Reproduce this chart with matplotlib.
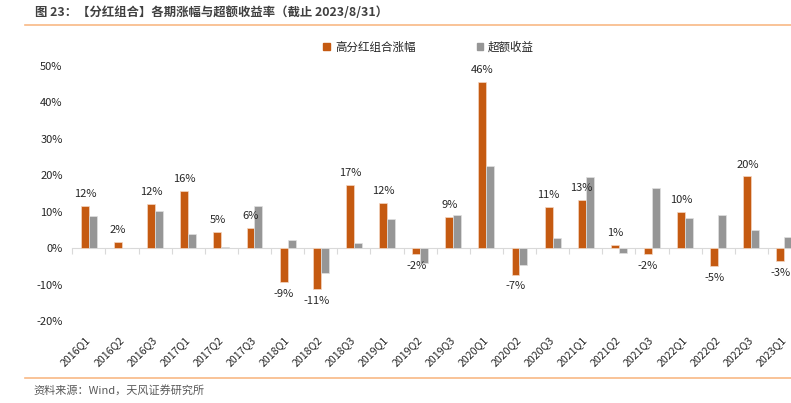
import matplotlib
matplotlib.use("Agg")
import matplotlib.pyplot as plt
import numpy as np
from matplotlib.patches import Patch

plt.rcParams['font.family'] = ['Noto Sans CJK SC', 'DejaVu Sans']

categories = ["2016Q1", "2016Q2", "2016Q3", "2017Q1", "2017Q2", "2017Q3",
              "2018Q1", "2018Q2", "2018Q3", "2019Q1", "2019Q2", "2019Q3",
              "2020Q1", "2020Q2", "2020Q3", "2021Q1", "2021Q2", "2021Q3",
              "2022Q1", "2022Q2", "2022Q3", "2023Q1"]
gain = [11.7, 1.7, 12.2, 15.7, 4.6, 5.7,
        -9.3, -11.2, 17.4, 12.3, -1.6, 8.7,
        45.6, -7.2, 11.3, 13.3, 0.8, -1.6,
        10.0, -4.8, 19.7, -3.4]
excess = [8.9, 0.1, 10.3, 4.0, 0.3, 11.5,
          2.3, -6.7, 1.5, 8.0, -4.1, 9.2,
          22.5, -4.7, 2.7, 19.6, -1.3, 16.6,
          8.4, 9.1, 5.0, 3.1]
series_names = ["高分红组合涨幅", "超额收益"]
yticks = [-20, -10, 0, 10, 20, 30, 40, 50]

title = "图 23：【分红组合】各期涨幅与超额收益率（截止 2023/8/31）"
source = "资料来源：Wind，天风证券研究所"

ORANGE = "#C55A11"
GRAY = "#969696"

W, H = 791, 403
fig = plt.figure(figsize=(W / 100, H / 100), dpi=100)

left_px, right_px = 72.3, 801.0
top_px, bot_px = 66.0, 321.2
ax = fig.add_axes([left_px / W, (H - bot_px) / H,
                   (right_px - left_px) / W, (bot_px - top_px) / H])

x = np.arange(len(categories))
bw = 0.24
b1 = ax.bar(x - bw / 2, gain, width=bw, color=ORANGE, edgecolor="#f4d7c3",
            linewidth=0.5, label=series_names[0], zorder=3)
b2 = ax.bar(x + bw / 2, excess, width=bw, color=GRAY, edgecolor="#e0e0e0",
            linewidth=0.5, label=series_names[1], zorder=3)

ax.bar_label(b1, labels=[f"{round(v)}%" for v in gain], padding=5,
             fontsize=8, color="#262626")

ax.set_xlim(-0.5, len(categories) - 0.5)
ax.set_ylim(-20, 50)
ax.set_yticks(yticks)
ax.set_yticklabels([f"{v}%" for v in yticks])
ax.tick_params(axis='y', length=0, pad=7, labelsize=8, labelcolor="#262626")

for s in ax.spines.values():
    s.set_visible(False)

ax.set_xticks(x)
ax.set_xticklabels(categories, rotation=45, ha='right', va='center',
                   rotation_mode='anchor')
ax.tick_params(axis='x', length=0, pad=12, labelsize=7.6, labelcolor="#262626")

# zero axis line with category boundary ticks
sec = ax.secondary_xaxis(20 / 70)
sec.set_xticks(np.arange(len(categories) + 1) - 0.5)
sec.set_xticklabels([])
sec.tick_params(axis='x', length=4, color="#d9d9d9", width=0.8)
sec.spines['bottom'].set_color("#d9d9d9")
sec.spines['bottom'].set_linewidth(0.8)
for k in ('top', 'left', 'right'):
    sec.spines[k].set_visible(False)

handles = [Patch(facecolor=ORANGE, edgecolor=ORANGE),
           Patch(facecolor=GRAY, edgecolor=GRAY)]
fig.legend(handles, series_names, loc='center left',
           bbox_to_anchor=(313 / W, 1 - 47 / H), ncol=2, frameon=False,
           fontsize=8.3, handlelength=0.6, handleheight=0.6,
           handletextpad=0.4, columnspacing=5.3, labelcolor="#262626")

fig.text(35 / W, 1 - 13 / H, title, fontsize=8.9, fontweight='bold',
         color="#404040", ha='left', va='center')
fig.add_artist(plt.Line2D([25 / W, 1], [1 - 24.5 / H, 1 - 24.5 / H],
                          color="#F8B985", linewidth=1.2))
fig.add_artist(plt.Line2D([25 / W, 1], [1 - 377.5 / H, 1 - 377.5 / H],
                          color="#F8B985", linewidth=1.2))
fig.text(33 / W, 1 - 390 / H, source, fontsize=8, color="#595959",
         ha='left', va='center')

fig.savefig("out.png", dpi=100)
